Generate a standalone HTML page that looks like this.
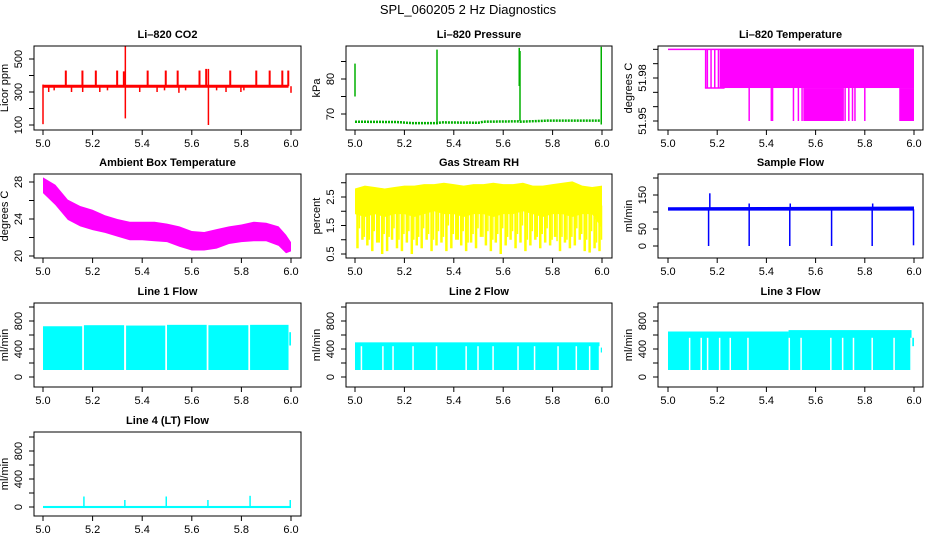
<!DOCTYPE html>
<html><head><meta charset="utf-8"><style>
html,body{margin:0;padding:0;background:#fff;}
svg{display:block;font-family:"Liberation Sans",Arial,sans-serif;}
</style></head><body>
<svg id="chart" width="936" height="540" viewBox="0 0 936 540">
<text x="468" y="14" text-anchor="middle" font-size="13">SPL_060205  2 Hz Diagnostics</text>
</svg>
<script>
// ---- data arrays ----
const xTicks=[5.0,5.2,5.4,5.6,5.8,6.0];
const xTickLabels=["5.0","5.2","5.4","5.6","5.8","6.0"];
// CO2
const co2Base=335;
const co2UpX=[5.092,5.159,5.213,5.299,5.326,5.422,5.495,5.543,5.631,5.658,5.755,5.86,5.914,5.965,5.989];
const co2UpV=[430,430,430,430,425,430,430,430,430,440,430,430,430,430,430];
const co2DnX=[5.023,5.045,5.115,5.16,5.229,5.26,5.39,5.46,5.49,5.548,5.575,5.7,5.738,5.798,5.81,6.0];
const co2DnV=[300,310,300,300,300,310,300,300,310,295,310,310,300,300,310,295];
const co2BigX=[5.0,5.332,5.667];
const co2BigLo=[105,140,100];
const co2BigHi=[345,576,440];
// Pressure
const presBaseX=[5.0,5.17,5.23,5.33,5.35,5.5,5.52,5.66,5.67,5.78,6.0];
const presBaseV=[67.8,67.7,67.4,67.4,67.6,67.5,67.8,67.9,67.8,68.1,68.1];
const presSpX=[5.0,5.332,5.665,5.668,5.997];
const presSpLo=[75,67,78,68,67];
const presSpHi=[84.4,88.4,88.9,88,89.2];
// Li-820 temperature
const tempLevels=[51.95,51.973,52.0];
const tempMidX=[5.153,5.16,5.175,5.19,5.205];
const tempDense=[5.21,6.0];
const tempLowX=[5.33,5.42,5.425,5.51,5.53,5.545,5.72,5.735,5.75,5.76,5.80];
const tempLowStart=[5.55,5.94];
const tempLowEnd=[5.715,6.0];
// Ambient box temperature
const ambX=[5.0,5.05,5.1,5.15,5.2,5.25,5.3,5.35,5.4,5.45,5.5,5.55,5.6,5.65,5.7,5.75,5.8,5.85,5.9,5.95,5.98,6.0];
const ambHi=[28.5,27.7,26.1,25.4,25.0,24.4,24.0,23.7,23.7,23.7,23.5,23.2,22.7,22.6,22.9,23.2,23.4,23.7,23.6,23.2,22.3,21.5];
const ambLo=[26.8,25.5,23.9,23.2,22.8,22.5,22.1,21.7,21.7,21.6,21.5,21.0,20.6,20.6,20.8,21.3,21.5,21.6,21.6,21.1,20.3,20.5];
// Gas stream RH
const rhX=[5.0,5.04,5.08,5.12,5.16,5.2,5.24,5.28,5.32,5.36,5.4,5.44,5.48,5.52,5.56,5.6,5.64,5.68,5.72,5.76,5.8,5.84,5.88,5.92,5.96,6.0];
const rhHi=[2.8,2.9,2.85,2.8,2.85,2.9,2.9,2.95,2.95,3.0,2.95,2.9,2.95,2.95,3.0,2.95,2.95,3.0,2.9,2.9,2.95,3.0,3.05,2.9,2.85,2.9];
const rhCore=[1.9,1.8,1.9,1.8,1.9,1.9,1.8,1.9,2.0,1.9,1.9,1.8,1.9,1.9,1.8,1.9,1.9,2.0,1.9,1.8,1.9,1.9,1.8,1.9,1.9,1.4];
const rhLowX=[5.01,5.03,5.05,5.07,5.09,5.11,5.13,5.15,5.17,5.19,5.21,5.23,5.25,5.27,5.29,5.31,5.33,5.35,5.37,5.39,5.41,5.43,5.45,5.47,5.49,5.51,5.53,5.55,5.57,5.59,5.61,5.63,5.65,5.67,5.69,5.71,5.73,5.75,5.77,5.79,5.81,5.83,5.85,5.87,5.89,5.91,5.93,5.95,5.97,5.99];
const rhLowV=[0.7,1.0,0.8,0.6,0.9,0.5,0.6,1.0,0.7,0.6,0.9,0.5,0.8,0.7,1.0,0.6,0.8,0.9,0.6,0.7,1.0,0.8,0.6,0.9,0.7,1.1,0.8,0.6,0.9,0.5,0.8,1.0,0.7,0.9,0.6,0.8,1.0,0.7,0.9,0.8,1.1,0.6,0.9,0.7,0.8,1.0,0.6,0.55,0.7,0.6];
// Sample flow
const sampX=[5.0,6.0];
const sampLo=[104,104];
const sampHi=[114,116];
const sampDipX=[5.165,5.33,5.495,5.665,5.83,5.998];
const sampDipV=[0,0,0,0,0,2];
const sampUpX=[5.17,5.33,5.497,5.832];
const sampUpV=[155,125,125,125];
// Line 1
const l1Start=[5.0,5.165,5.335,5.5,5.667,5.835];
const l1End=[5.158,5.327,5.493,5.66,5.828,5.99];
const l1Top=[725,740,735,745,740,745];
const l1Bottom=100;
// Line 2
const l2Top=495, l2Bottom=100, l2GapTop=440;
const l2Gaps=[5.026,5.113,5.154,5.235,5.33,5.45,5.498,5.559,5.66,5.727,5.822,5.896,5.95,5.99];
// Line 3
const l3TopA=650, l3TopB=670, l3Bottom=100, l3GapTop=560;
const l3Gaps=[5.088,5.135,5.161,5.21,5.253,5.325,5.493,5.541,5.662,5.71,5.754,5.83,5.919,5.988];
// Line 4
const l4SpX=[5.165,5.33,5.497,5.665,5.835,5.997];
const l4SpV=[150,100,150,100,160,100];

// ---- layout ----
const svg=document.getElementById('chart');
const NS='http://www.w3.org/2000/svg';
const colBox=[[34,301],[346,612],[658,923]];
const colX0=[43,355,668], colSc=[248,247,246];
const rowTop=[46,174,303,432], boxH=84;
function mk(tag,attrs,parent){const e=document.createElementNS(NS,tag);for(const k in attrs)e.setAttribute(k,attrs[k]);(parent||svg).appendChild(e);return e;}

function panel(o){
  const g=mk('g',{});
  
  
  const [bl,br]=colBox[o.col]; const bt=rowTop[o.row], bb=bt+boxH;
  const X=d=>colX0[o.col]+(d-5)*colSc[o.col];
  const Y=v=>o.y1+(v-o.v1)*(o.y2-o.y1)/(o.v2-o.v1);
  const marks=mk('g',{},g);
  
  
  const frame=mk('rect',{x:bl,y:bt,width:br-bl,height:bb-bt,fill:'none',stroke:'#000','stroke-width':1},g);
  
  
  const t=mk('text',{x:(bl+br)/2,y:bt-8,'text-anchor':'middle','font-size':11,'font-weight':'bold'},g);
  t.textContent=o.title;
  
  
  // x axis
  const xa=mk('g',{},g);
  
  
  mk('line',{x1:X(5),x2:X(6),y1:bb,y2:bb,stroke:'#000'},xa);
  xTicks.forEach((v,i)=>{
    mk('line',{x1:X(v),x2:X(v),y1:bb,y2:bb+5,stroke:'#000'},xa);
    const tl=mk('text',{x:X(v),y:bb+17,'text-anchor':'middle','font-size':11},xa);
    tl.textContent=xTickLabels[i];
    
    
  });
  // y axis
  const ya=mk('g',{},g);
  
  
  const tk=o.ticks;
  mk('line',{x1:bl,x2:bl,y1:Y(tk[0]),y2:Y(tk[tk.length-1]),stroke:'#000'},ya);
  tk.forEach((v,i)=>{
    mk('line',{x1:bl-5,x2:bl,y1:Y(v),y2:Y(v),stroke:'#000'},ya);
    if(o.labels[i]){
      const lx=bl-12, ly=Y(v);
      const tl=mk('text',{x:lx,y:ly,'text-anchor':'middle','font-size':11,transform:`rotate(-90 ${lx} ${ly})`},ya);
      tl.textContent=o.labels[i];
      
      
    }
  });
  const yl=bl-26, ylY=(bt+bb)/2;
  const yt=mk('text',{x:yl,y:ylY,'text-anchor':'middle','font-size':11,transform:`rotate(-90 ${yl} ${ylY})`},g);
  yt.textContent=o.ylab;
  
  
  return {X,Y,g:marks};
}
function vl(p,x,a,b,c,w,name){
  const l=mk('line',{x1:p.X(x),x2:p.X(x),y1:p.Y(a),y2:p.Y(b),stroke:c,'stroke-width':w||1.5},p.g);
  
  
  return l;
}
function rectv(p,x1,x2,lo,hi,c,name){
  const r=mk('rect',{x:p.X(x1),y:p.Y(hi),width:Math.max(0.5,p.X(x2)-p.X(x1)),height:p.Y(lo)-p.Y(hi),fill:c},p.g);
  
  
  return r;
}
function band(p,xs,hi,lo,c,name){
  let pts=xs.map((x,i)=>p.X(x)+','+p.Y(hi[i]));
  pts=pts.concat(xs.map((x,i)=>p.X(x)+','+p.Y(lo[i])).reverse());
  const pg=mk('polygon',{points:pts.join(' '),fill:c},p.g);
  
  
}
const flowTicks=[0,200,400,600,800,1000], flowLabels=["0","","400","","800",""];

// CO2
let p=panel({name:'co2-panel',col:0,row:0,title:'Li\u2013820 CO2',ylab:'Licor ppm',v1:100,y1:125,v2:500,y2:59,ticks:[100,200,300,400,500],labels:["100","","300","","500"]});
{const l=mk('line',{x1:p.X(5),x2:p.X(5.99),y1:p.Y(co2Base),y2:p.Y(co2Base),stroke:'#ff0000','stroke-width':3},p.g);

}
co2UpX.forEach((x,i)=>vl(p,x,co2Base,co2UpV[i],'#ff0000',2,'co2-spike'));
co2DnX.forEach((x,i)=>vl(p,x,co2Base,co2DnV[i],'#ff0000',1.5,'co2-dip'));
co2BigX.forEach((x,i)=>vl(p,x,co2BigLo[i],co2BigHi[i],'#ff0000',1.5,'co2-big-spike'));

// Pressure
p=panel({name:'pressure-panel',col:1,row:0,title:'Li\u2013820 Pressure',ylab:'kPa',v1:70,y1:114,v2:80,y2:79,ticks:[70,75,80,85],labels:["70","","80",""]});
{const pl=mk('polyline',{points:presBaseX.map((x,i)=>p.X(x)+','+p.Y(presBaseV[i])).join(' '),fill:'none',stroke:'#00b000','stroke-width':2.5,'stroke-dasharray':'2,1'},p.g);

}
presSpX.forEach((x,i)=>vl(p,x,presSpLo[i],presSpHi[i],'#00b000',1.5,'pressure-spike'));

// Li-820 temperature
p=panel({name:'li820-temperature-panel',col:2,row:0,title:'Li\u2013820 Temperature',ylab:'degrees C',v1:51.95,y1:121,v2:51.98,y2:78,ticks:[51.95,51.96,51.97,51.98,51.99,52.0],labels:["51.95","","","51.98","",""]});
const TM='#ff00ff';
{const l=mk('line',{x1:p.X(5),x2:p.X(6),y1:p.Y(tempLevels[2]),y2:p.Y(tempLevels[2]),stroke:TM,'stroke-width':1.5},p.g);


const m=mk('line',{x1:p.X(5.15),x2:p.X(5.23),y1:p.Y(tempLevels[1]),y2:p.Y(tempLevels[1]),stroke:TM,'stroke-width':1.5},p.g);

}
rectv(p,tempDense[0],tempDense[1],tempLevels[1],tempLevels[2],TM,'temp-dense-block');
tempMidX.forEach(x=>vl(p,x,tempLevels[1],tempLevels[2],TM,1.5,'temp-mid-spike'));
tempLowX.forEach(x=>vl(p,x,tempLevels[0],tempLevels[1],TM,1.5,'temp-low-spike'));
tempLowStart.forEach((s,i)=>rectv(p,s,tempLowEnd[i],tempLevels[0],tempLevels[1],TM,'temp-low-block'));

// Ambient
p=panel({name:'ambient-temperature-panel',col:0,row:1,title:'Ambient Box Temperature',ylab:'degrees C',v1:20,y1:256,v2:28,y2:182,ticks:[20,22,24,26,28],labels:["20","","24","","28"]});
band(p,ambX,ambHi,ambLo,'#ff00ff','ambient-band');

// RH
p=panel({name:'rh-panel',col:1,row:1,title:'Gas Stream RH',ylab:'percent',v1:0.5,y1:254,v2:2.5,y2:197,ticks:[0.5,1.0,1.5,2.0,2.5,3.0],labels:["0.5","","1.5","","2.5",""]});
band(p,rhX,rhHi,rhCore,'#ffff00','rh-band');
rhLowX.forEach((x,i)=>{vl(p,x,rhLowV[i],2.2,'#ffff00',2.5,'rh-dip');vl(p,x+0.008,rhLowV[(i+7)%rhLowV.length]+0.4,2.2,'#ffff00',1.5,'rh-dip');});

// Sample flow
p=panel({name:'sample-flow-panel',col:2,row:1,title:'Sample Flow',ylab:'ml/min',v1:0,y1:246,v2:150,y2:195,ticks:[0,50,100,150,200],labels:["0","50","","150",""]});
band(p,sampX,sampHi,sampLo,'#0000ff','sample-band');
sampDipX.forEach((x,i)=>vl(p,x,sampDipV[i],108,'#0000ff',1.5,'sample-dip'));
sampUpX.forEach((x,i)=>vl(p,x,108,sampUpV[i],'#0000ff',1.5,'sample-spike'));

const CY='#00ffff';
// Line 1
p=panel({name:'line1-flow-panel',col:0,row:2,title:'Line 1 Flow',ylab:'ml/min',v1:0,y1:377,v2:800,y2:321,ticks:flowTicks,labels:flowLabels});
l1Start.forEach((s,i)=>rectv(p,s,l1End[i],l1Bottom,l1Top[i],CY,'line1-block'));
rectv(p,5.993,6.0,450,640,CY,'line1-stub');

// Line 2
p=panel({name:'line2-flow-panel',col:1,row:2,title:'Line 2 Flow',ylab:'ml/min',v1:0,y1:377,v2:800,y2:321,ticks:flowTicks,labels:flowLabels});
rectv(p,5.0,5.99,l2Bottom,l2Top,CY,'line2-band');
l2Gaps.forEach(x=>vl(p,x,l2Bottom-10,l2GapTop,'#ffffff',1.5,'line2-gap'));
rectv(p,5.995,6.0,350,420,CY,'line2-stub');

// Line 3
p=panel({name:'line3-flow-panel',col:2,row:2,title:'Line 3 Flow',ylab:'ml/min',v1:0,y1:377,v2:800,y2:321,ticks:flowTicks,labels:flowLabels});
rectv(p,5.0,5.49,l3Bottom,l3TopA,CY,'line3-band');
rectv(p,5.49,5.99,l3Bottom,l3TopB,CY,'line3-band');
l3Gaps.forEach(x=>vl(p,x,l3Bottom-10,l3GapTop,'#ffffff',1.5,'line3-gap'));
rectv(p,5.993,6.0,440,560,CY,'line3-stub');

// Line 4
p=panel({name:'line4-flow-panel',col:0,row:3,title:'Line 4 (LT) Flow',ylab:'ml/min',v1:0,y1:507,v2:800,y2:451,ticks:flowTicks,labels:flowLabels});
rectv(p,5.0,6.0,-15,15,CY,'line4-baseline');
l4SpX.forEach((x,i)=>vl(p,x,0,l4SpV[i],CY,1.5,'line4-spike'));
</script>
</body></html>
